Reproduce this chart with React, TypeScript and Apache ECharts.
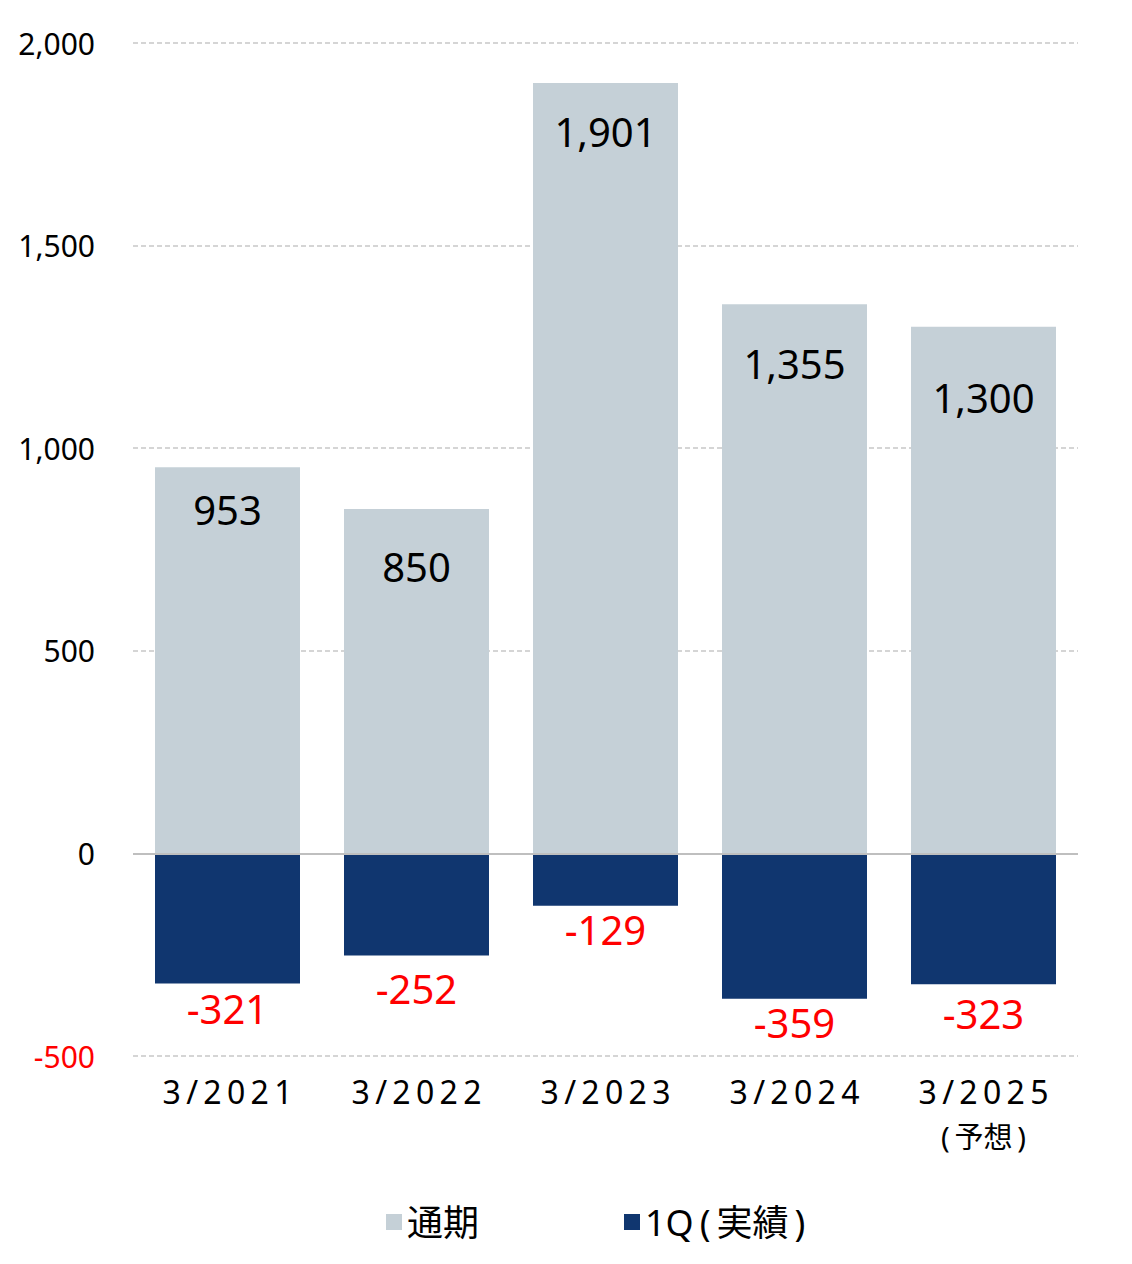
import React, { useEffect, useRef } from "react";
import * as echarts from "echarts";

const categories = ["3/2021", "3/2022", "3/2023", "3/2024", "3/2025\n(予想)"];
const fullYear = [953, 850, 1901, 1355, 1300];
const firstQuarter = [-321, -252, -129, -359, -323];
const seriesNames = ["通期", "1Q(実績)"];

// label placement styling (px from bar end), as in the reference
const fullLabelGap = [22, 38, 28, 39, 51];
const qLabelGap = [5, 13, 4, 4, 9];

const FONT = "'Noto Sans', 'Noto Sans CJK JP', sans-serif";

export default function App() {
  const ref = useRef<HTMLDivElement>(null);
  useEffect(() => {
    if (!ref.current) return;
    const chart = echarts.init(ref.current, null, { renderer: "svg" });
    chart.setOption({
      animation: false,
      textStyle: { fontFamily: FONT },
      grid: { left: 125, right: 46, top: 35, bottom: 200 },
      legend: {
        left: 373,
        top: 1191,
        itemGap: 145,
        itemWidth: 16,
        itemHeight: 16,
        icon: "rect",
        textStyle: { fontSize: 36, color: "#000", fontFamily: FONT },
        formatter: (n: string) => n.replace("(", "\u2009(\u2009").replace(")", "\u2009)"),
        data: seriesNames,
      },
      xAxis: {
        type: "category",
        data: categories,
        axisLine: { show: false },
        axisTick: { show: false },
        axisLabel: {
          interval: 0,
          margin: 15,
          color: "#000",
          fontFamily: FONT,
          formatter: (v: string) => {
            const parts = v.split("\n");
            const main = parts[0].split("").join("\u2009");
            if (parts.length > 1) {
              const sub = parts[1].replace("(", "(\u2009").replace(")", "\u2009)");
              return `{m|${main}}\n{s|${sub}}`;
            }
            return `{m|${main}}`;
          },
          rich: {
            m: { fontSize: 32, lineHeight: 40, fontFamily: FONT, color: "#000" },
            s: { fontSize: 29, lineHeight: 50, fontFamily: FONT, color: "#000" },
          },
        },
      },
      yAxis: {
        type: "value",
        min: -500,
        max: 2000,
        interval: 500,
        axisLine: { show: false },
        axisTick: { show: false },
        splitLine: { lineStyle: { type: [5, 3], color: "#c8c8c8", width: 1.5 } },
        axisLabel: {
          margin: 38,
          fontSize: 30,
          fontFamily: FONT,
          color: (v: any) => (Number(v) < 0 ? "#ff0000" : "#000"),
          formatter: (v: number) => v.toLocaleString("en-US"),
        },
      },
      series: [
        {
          name: seriesNames[0],
          type: "bar",
          data: fullYear.map((v, i) => ({ value: v, label: { distance: fullLabelGap[i] } })),
          barWidth: 145,
          barGap: "-100%",
          itemStyle: { color: "#c5d0d7" },
          label: {
            show: true,
            position: "insideTop",
            distance: 23,
            fontSize: 40,
            color: "#000",
            fontFamily: FONT,
            formatter: (p: any) => Number(p.value).toLocaleString("en-US"),
          },
          z: 2,
        },
        {
          name: seriesNames[1],
          type: "bar",
          data: firstQuarter.map((v, i) => ({ value: v, label: { distance: qLabelGap[i] } })),
          barWidth: 145,
          barGap: "-100%",
          itemStyle: { color: "#10366f" },
          label: {
            show: true,
            position: "bottom",
            distance: 6,
            fontSize: 40,
            color: "#ff0000",
            fontFamily: FONT,
          },
          markLine: {
            silent: true,
            symbol: "none",
            label: { show: false },
            lineStyle: { color: "#bfbfbf", type: "solid", width: 2 },
            data: [{ yAxis: 0 }],
          },
          z: 3,
        },
      ],
    });
    return () => chart.dispose();
  }, []);
  return <div ref={ref} style={{ width: 1116, height: 1248 }} />;
}
